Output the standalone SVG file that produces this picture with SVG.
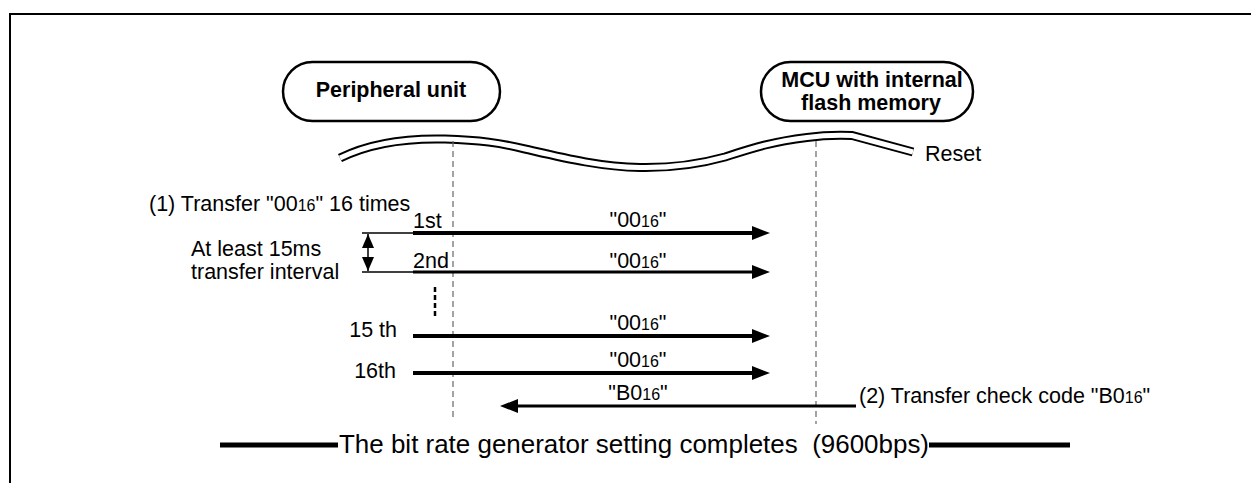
<svg xmlns="http://www.w3.org/2000/svg" width="1251" height="483" viewBox="0 0 1251 483">
<style>
text{font-family:"Liberation Sans",Arial,sans-serif;fill:#000}
.t{font-size:21.5px}
.b{font-size:21.5px;font-weight:bold}
.s{font-size:16px}
.box{fill:#fff;stroke:#000;stroke-width:2.5}
.dash{stroke:#666;stroke-width:1.2;stroke-dasharray:6 4;fill:none}
.thin{stroke:#000;stroke-width:1.3}
.arr{stroke:#000;stroke-width:4}
</style>
<defs>
<marker id="ah" viewBox="0 0 18 14" refX="0" refY="7" markerWidth="18" markerHeight="14" markerUnits="userSpaceOnUse" orient="auto">
<path d="M0,0L18,7L0,14z" fill="#000"/>
</marker>
<marker id="dh" viewBox="0 0 14 12" refX="14" refY="6" markerWidth="14" markerHeight="12" markerUnits="userSpaceOnUse" orient="auto-start-reverse">
<path d="M0,0L14,6L0,12z" fill="#000"/>
</marker>
</defs>
<rect width="1251" height="483" fill="#fff"/>
<path d="M10,483V14H1251" fill="none" stroke="#000" stroke-width="2"/>

<g id="peripheral">
<rect class="box" x="283" y="62" width="217" height="59" rx="29.5" ry="29.5"/>
<text class="b" x="391" y="97" text-anchor="middle">Peripheral unit</text>
</g>
<g id="mcu">
<rect class="box" x="761" y="62" width="212" height="59" rx="29.5" ry="29.5"/>
<text class="b" x="872" y="87" text-anchor="middle">MCU with internal</text>
<text class="b" x="871" y="110" text-anchor="middle">flash memory</text>
</g>

<g id="reset">
<path d="M340,158 C370,143 405,138 445,139 C480,140 500,143 525,149 C560,157 600,167 640,167.5 C670,168 700,164 725,157 C750,149 770,142 807,137.5 C825,135 840,135 852,135.5 L913,152" fill="none" stroke="#000" stroke-width="9"/>
<path d="M340,158 C370,143 405,138 445,139 C480,140 500,143 525,149 C560,157 600,167 640,167.5 C670,168 700,164 725,157 C750,149 770,142 807,137.5 C825,135 840,135 852,135.5 L913,152" fill="none" stroke="#fff" stroke-width="5"/>
<text class="t" x="925" y="161">Reset</text>
</g>

<g id="lifelines">
<line class="dash" x1="453" y1="141" x2="453" y2="421"/>
<line class="dash" x1="816" y1="141" x2="816" y2="424"/>
</g>

<g id="labels">
<text class="t" x="149" y="211">(1) Transfer "00<tspan class="s">16</tspan>" 16 times</text>
<text class="t" x="191" y="256">At least 15ms</text>
<text class="t" x="191" y="279">transfer interval</text>
<text class="t" x="413" y="228">1st</text>
<text class="t" x="413" y="268">2nd</text>
<text class="t" x="397" y="337" text-anchor="end">15 th</text>
<text class="t" x="396" y="378" text-anchor="end">16th</text>
<text class="t" x="859" y="403">(2) Transfer check code "B0<tspan class="s">16</tspan>"</text>
</g>

<g id="connectors">
<line class="thin" x1="362" y1="233" x2="413" y2="233"/>
<line class="thin" x1="362" y1="272" x2="413" y2="272"/>
<line x1="368" y1="234" x2="368" y2="271" stroke="#000" stroke-width="1.5" marker-start="url(#dh)" marker-end="url(#dh)"/>
<line x1="435" y1="287" x2="435" y2="318" stroke="#000" stroke-width="2.5" stroke-dasharray="5 3"/>
<line class="arr" x1="413" y1="233" x2="752" y2="233" marker-end="url(#ah)"/>
<line x1="413" y1="272" x2="752" y2="272" stroke="#000" stroke-width="3" marker-end="url(#ah)"/>
<line class="arr" x1="413" y1="336" x2="752" y2="336" marker-end="url(#ah)"/>
<line class="arr" x1="413" y1="373" x2="752" y2="373" marker-end="url(#ah)"/>
<line x1="856" y1="406" x2="518" y2="406" stroke="#000" stroke-width="3" marker-end="url(#ah)"/>
<text class="t" x="638" y="227" text-anchor="middle">"00<tspan class="s">16</tspan>"</text>
<text class="t" x="638" y="268" text-anchor="middle">"00<tspan class="s">16</tspan>"</text>
<text class="t" x="638" y="330" text-anchor="middle">"00<tspan class="s">16</tspan>"</text>
<text class="t" x="638" y="367" text-anchor="middle">"00<tspan class="s">16</tspan>"</text>
<text class="t" x="638" y="400" text-anchor="middle">"B0<tspan class="s">16</tspan>"</text>
</g>

<g id="completion">
<line x1="220" y1="445" x2="338" y2="445" stroke="#000" stroke-width="5"/>
<text x="339" y="453" style="font-size:26px" xml:space="preserve" textLength="590" lengthAdjust="spacingAndGlyphs">The bit rate generator setting completes  (9600bps)</text>
<line x1="929" y1="445" x2="1070" y2="445" stroke="#000" stroke-width="5"/>
</g>
</svg>
